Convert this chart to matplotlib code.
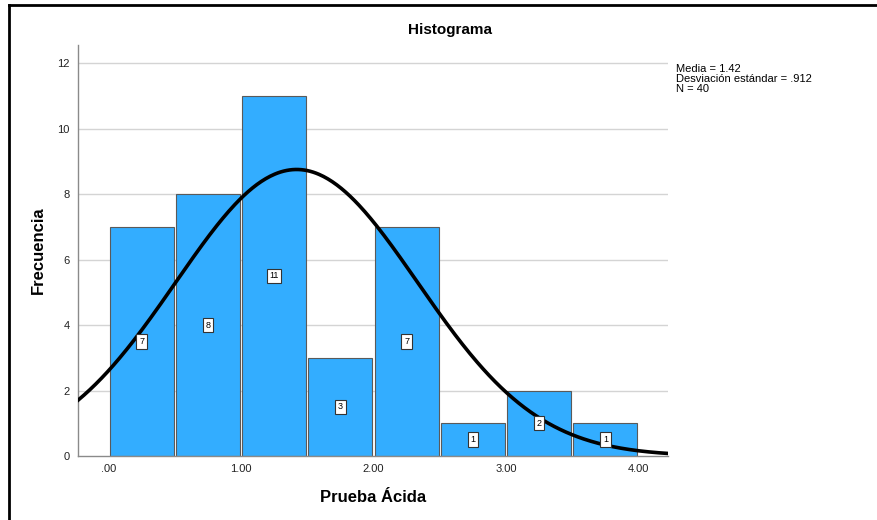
import numpy as np
import matplotlib
matplotlib.use("Agg")
import matplotlib.pyplot as plt
from matplotlib.lines import Line2D

# histogram bins (Prueba Ácida) and counts
bin_left = [0.0, 0.5, 1.0, 1.5, 2.0, 2.5, 3.0, 3.5]
counts = [7, 8, 11, 3, 7, 1, 2, 1]
bin_width = 0.5
media = 1.42
desv = 0.912
n_total = 40
x_ticks = [0, 1, 2, 3, 4]
x_tick_labels = [".00", "1.00", "2.00", "3.00", "4.00"]
y_ticks = [0, 2, 4, 6, 8, 10, 12]

plt.rcParams['font.family'] = ['Liberation Sans', 'DejaVu Sans']

fig = plt.figure(figsize=(8.78, 5.2), dpi=100)
ax = fig.add_axes([78 / 878, 1 - 456 / 520, 590 / 878, 411 / 520])

x0, x1 = -0.23, 4.223
ax.set_xlim(x0, x1)
ax.set_ylim(0, 12.55)

# grid lines
for y in y_ticks[1:]:
    ax.axhline(y, color='#d4d4d4', lw=1.0, zorder=0)

centers = [b + bin_width / 2 for b in bin_left]
ax.bar(centers, counts, width=bin_width * 0.965, color='#33adff',
       edgecolor='#5a5a5a', linewidth=0.8, zorder=2)

# normal curve from the stats
xs = np.linspace(x0, x1, 400)
pdf = np.exp(-0.5 * ((xs - media) / desv) ** 2) / (desv * np.sqrt(2 * np.pi))
ax.plot(xs, pdf * n_total * bin_width, color='black', lw=2.6, zorder=3)

# count labels in the middle of each bar
for cx, c in zip(centers, counts):
    ax.text(cx, c / 2, str(c), ha='center', va='center', fontsize=6.5, zorder=4,
            bbox=dict(boxstyle='square,pad=0.3', fc='white', ec='#333333', lw=0.8))

ax.set_xticks(x_ticks)
ax.set_xticklabels(x_tick_labels)
ax.set_yticks(y_ticks)
ax.tick_params(length=0, labelsize=8, colors='#222222', pad=6)
for s in ['top', 'right']:
    ax.spines[s].set_visible(False)
for s in ['left', 'bottom']:
    ax.spines[s].set_color('#8a8a8a')
    ax.spines[s].set_linewidth(1.0)

fig.text(450 / 878, 1 - 30 / 520, "Histograma", fontsize=11, fontweight='bold',
         ha='center', va='center')
ax.set_xlabel("Prueba Ácida", fontsize=12, fontweight='bold', labelpad=11)
ax.set_ylabel("Frecuencia", fontsize=12, fontweight='bold', labelpad=8)

fig.text(676 / 878, 1 - 64 / 520, "Media = 1.42\nDesviación estándar = .912\nN = 40",
         fontsize=8, va='top', ha='left', linespacing=1.0)

# outer frame (left and top only visible)
fig.add_artist(Line2D([9.5 / 878, 9.5 / 878], [0, 1 - 4.5 / 520],
                      transform=fig.transFigure, color='black', lw=2))
fig.add_artist(Line2D([9.5 / 878, 1], [1 - 4.5 / 520, 1 - 4.5 / 520],
                      transform=fig.transFigure, color='black', lw=2))

fig.savefig("out.png", dpi=100)
